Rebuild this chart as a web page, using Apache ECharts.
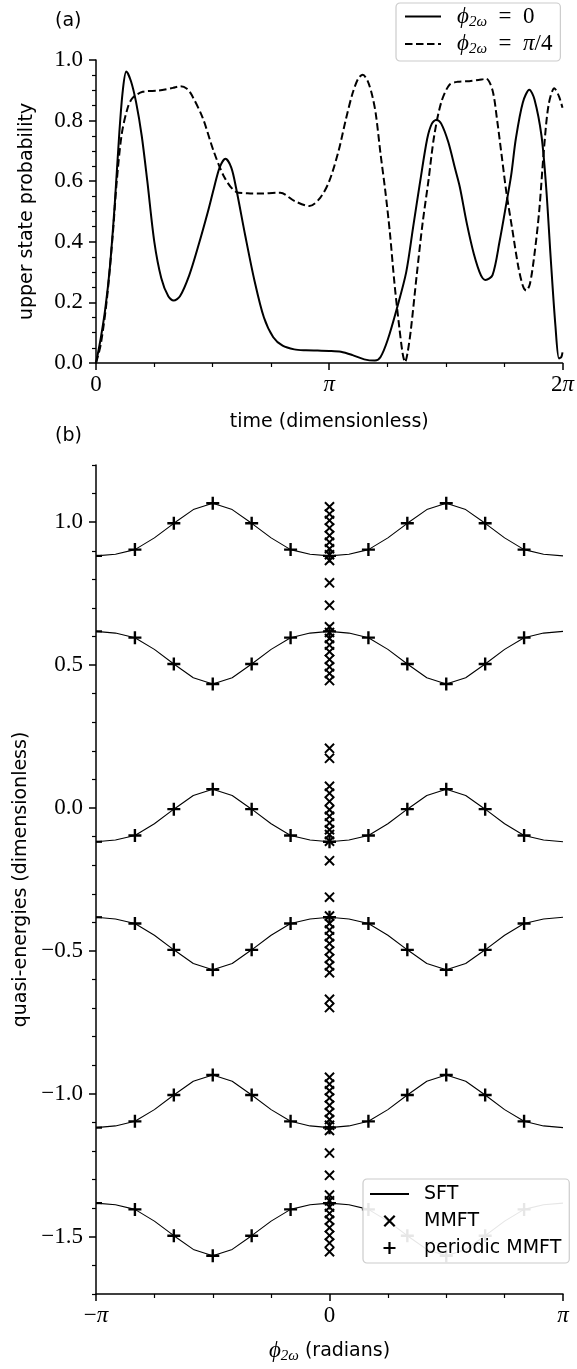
<!DOCTYPE html>
<html>
<head>
<meta charset="utf-8">
<script src="https://cdn.jsdelivr.net/npm/echarts@6/dist/echarts.min.js"></script>
<style>
  html, body { margin: 0; background: #fff; }
  #chart { width: 577px; height: 1369px; }
</style>
</head>
<body>
<div id="chart"></div>
<script type="text/javascript">
// ---- panel (a): upper state probability, time in units of pi ----
const tSolid = [0,0.02,0.04,0.06,0.08,0.10,0.115,0.13,0.15,0.172,0.196,0.22,0.25,0.28,0.31,0.333,0.36,0.40,0.44,0.48,0.505,0.53,0.555,0.58,0.60,0.64,0.68,0.72,0.76,0.80,0.85,0.90,0.95,1.0,1.05,1.10,1.15,1.196,1.22,1.25,1.29,1.33,1.36,1.39,1.42,1.44,1.46,1.48,1.51,1.54,1.56,1.59,1.62,1.65,1.67,1.70,1.73,1.76,1.78,1.80,1.83,1.858,1.88,1.91,1.93,1.95,1.97,1.985,1.995,2.0];
const pSolid = [0,0.08,0.18,0.32,0.52,0.76,0.9,0.962,0.93,0.86,0.75,0.6,0.4,0.28,0.22,0.206,0.22,0.29,0.39,0.5,0.575,0.645,0.674,0.645,0.58,0.42,0.27,0.15,0.085,0.057,0.045,0.042,0.041,0.04,0.037,0.026,0.012,0.008,0.02,0.075,0.18,0.3,0.45,0.6,0.74,0.79,0.803,0.79,0.73,0.64,0.58,0.46,0.36,0.29,0.274,0.29,0.4,0.53,0.62,0.74,0.86,0.902,0.87,0.75,0.58,0.34,0.12,0.015,0.02,0.035];
const tDashed = [0,0.02,0.046,0.072,0.089,0.11,0.135,0.157,0.2,0.27,0.33,0.362,0.39,0.41,0.457,0.504,0.551,0.6,0.65,0.7,0.79,0.85,0.915,0.962,1.0,1.04,1.07,1.1,1.125,1.144,1.165,1.185,1.2,1.22,1.24,1.26,1.28,1.3,1.315,1.325,1.335,1.35,1.375,1.4,1.425,1.45,1.48,1.515,1.55,1.6,1.64,1.673,1.7,1.72,1.74,1.76,1.785,1.81,1.83,1.844,1.86,1.88,1.9,1.92,1.94,1.965,1.985,2.0];
const pDashed = [0,0.06,0.206,0.425,0.6,0.754,0.84,0.875,0.895,0.899,0.908,0.913,0.905,0.885,0.81,0.7,0.612,0.565,0.56,0.559,0.562,0.535,0.518,0.546,0.6,0.7,0.8,0.89,0.94,0.951,0.93,0.88,0.82,0.69,0.57,0.43,0.26,0.12,0.03,0.003,0.03,0.11,0.29,0.46,0.6,0.75,0.86,0.918,0.928,0.93,0.934,0.938,0.9,0.8,0.68,0.56,0.44,0.32,0.255,0.239,0.26,0.36,0.5,0.7,0.85,0.907,0.88,0.842];

// ---- panel (b): quasi-energies vs phase, phase in units of pi ----
const phiLine = [-1,-11/12,-10/12,-9/12,-8/12,-7/12,-6/12,-5/12,-4/12,-3/12,-2/12,-1/12,0,1/12,2/12,3/12,4/12,5/12,6/12,7/12,8/12,9/12,10/12,11/12,1];
const sft1 = [0.882,0.888,0.904,0.945,0.996,1.044,1.066,1.044,0.996,0.945,0.904,0.888,0.882,0.888,0.904,0.945,0.996,1.044,1.066,1.044,0.996,0.945,0.904,0.888,0.882];
const sft2 = [0.618,0.612,0.596,0.555,0.504,0.456,0.434,0.456,0.504,0.555,0.596,0.612,0.618,0.612,0.596,0.555,0.504,0.456,0.434,0.456,0.504,0.555,0.596,0.612,0.618];
const sft3 = [-0.118,-0.112,-0.096,-0.055,-0.004,0.044,0.066,0.044,-0.004,-0.055,-0.096,-0.112,-0.118,-0.112,-0.096,-0.055,-0.004,0.044,0.066,0.044,-0.004,-0.055,-0.096,-0.112,-0.118];
const sft4 = [-0.382,-0.388,-0.404,-0.445,-0.496,-0.544,-0.566,-0.544,-0.496,-0.445,-0.404,-0.388,-0.382,-0.388,-0.404,-0.445,-0.496,-0.544,-0.566,-0.544,-0.496,-0.445,-0.404,-0.388,-0.382];
const sft5 = [-1.118,-1.112,-1.096,-1.055,-1.004,-0.956,-0.934,-0.956,-1.004,-1.055,-1.096,-1.112,-1.118,-1.112,-1.096,-1.055,-1.004,-0.956,-0.934,-0.956,-1.004,-1.055,-1.096,-1.112,-1.118];
const sft6 = [-1.382,-1.388,-1.404,-1.445,-1.496,-1.544,-1.566,-1.544,-1.496,-1.445,-1.404,-1.388,-1.382,-1.388,-1.404,-1.445,-1.496,-1.544,-1.566,-1.544,-1.496,-1.445,-1.404,-1.388,-1.382];

const phiPeriodic = [-1,-5/6,-4/6,-3/6,-2/6,-1/6,0,1/6,2/6,3/6,4/6,5/6];
const per1 = [0.882,0.904,0.996,1.066,0.996,0.904,0.882,0.904,0.996,1.066,0.996,0.904];
const per2 = [0.618,0.596,0.504,0.434,0.504,0.596,0.618,0.596,0.504,0.434,0.504,0.596];
const per3 = [-0.118,-0.096,-0.004,0.066,-0.004,-0.096,-0.118,-0.096,-0.004,0.066,-0.004,-0.096];
const per4 = [-0.382,-0.404,-0.496,-0.566,-0.496,-0.404,-0.382,-0.404,-0.496,-0.566,-0.496,-0.404];
const per5 = [-1.118,-1.096,-1.004,-0.934,-1.004,-1.096,-1.118,-1.096,-1.004,-0.934,-1.004,-1.096];
const per6 = [-1.382,-1.404,-1.496,-1.566,-1.496,-1.404,-1.382,-1.404,-1.496,-1.566,-1.496,-1.404];

// MMFT energies, all at phase 0
const mmftEnergies = [1.054,1.029,1.006,0.980,0.953,0.930,0.907,0.886,0.866,0.788,0.709,0.634,0.614,0.593,0.570,0.547,0.520,0.494,0.471,0.446,
  0.209,0.174,0.076,0.052,0.023,-0.006,-0.029,-0.052,-0.076,-0.093,-0.116,-0.184,-0.312,-0.378,-0.404,-0.427,-0.450,-0.474,-0.500,-0.526,-0.552,-0.576,-0.669,-0.698,
  -0.942,-0.966,-0.989,-1.014,-1.040,-1.065,-1.090,-1.110,-1.128,-1.207,-1.285,-1.354,-1.374,-1.396,-1.418,-1.442,-1.468,-1.495,-1.522,-1.552];

// tick values for panel (b) y axis
const energyMajorTicks = [-1.5,-1.0,-0.5,0.0,0.5,1.0];
const energyMinorTicks = [-1.7,-1.6,-1.4,-1.3,-1.2,-1.1,-0.9,-0.8,-0.7,-0.6,-0.4,-0.3,-0.2,-0.1,0.1,0.2,0.3,0.4,0.6,0.7,0.8,0.9,1.1,1.2];

const SANS = "DejaVu Sans";
const SERIF = "Liberation Serif";
const PLUS = "path://M4.9,0H7.1V12H4.9ZM0,4.9H12V7.1H0Z";
const CROSS = "path://M0,1.2L1.2,0L9,7.8L7.8,9ZM7.8,0L9,1.2L1.2,9L0,7.8Z";

function zip(xs, ys) {
  return xs.map((x, i) => [x, ys[i]]);
}

const mathRich = {
  i: { fontFamily: SERIF, fontStyle: "italic", fontSize: 23, lineHeight: 26, color: "#000" },
  s: { fontFamily: SERIF, fontStyle: "italic", fontSize: 15, lineHeight: 15, verticalAlign: "bottom", color: "#000" },
  t: { fontFamily: SERIF, fontSize: 23, lineHeight: 26, color: "#000" },
  w: { fontFamily: SANS, fontSize: 19, lineHeight: 26, color: "#000" }
};

function axisCommon(extra) {
  return Object.assign({
    type: "value",
    axisLine: { onZero: false, lineStyle: { color: "#000", width: 1.5 } },
    axisTick: { length: 7, lineStyle: { color: "#000", width: 1.5 } },
    splitLine: { show: false },
    axisLabel: { color: "#000", fontFamily: SERIF, fontSize: 23, margin: 10 },
    nameLocation: "middle",
    nameTextStyle: { color: "#000", fontFamily: SANS, fontSize: 19 }
  }, extra);
}

const minor = { show: true, splitNumber: 4, length: 4, lineStyle: { color: "#000", width: 1.2 } };

const chart = echarts.init(document.getElementById("chart"), null, { renderer: "canvas" });

const sftSeries = [sft1, sft2, sft3, sft4, sft5, sft6].map(vals => ({
  name: "SFT",
  type: "line",
  xAxisIndex: 1,
  yAxisIndex: 1,
  data: zip(phiLine, vals),
  symbol: "none",
  lineStyle: { color: "#000", width: 1.1 },
  z: 2
}));

let periodicData = [];
[per1, per2, per3, per4, per5, per6].forEach(vals => {
  periodicData = periodicData.concat(zip(phiPeriodic, vals));
});
// markers sitting on the -pi spine are half hidden, as in the original
const periodicInside = periodicData.filter(p => p[0] > -1);
const periodicEdge = periodicData.filter(p => p[0] === -1);

chart.setOption({
  animation: false,
  backgroundColor: "#fff",
  title: [
    { text: "(a)", left: 50, top: 7, textStyle: { fontFamily: SANS, fontSize: 19, fontWeight: "normal", color: "#000" } },
    { text: "(b)", left: 50, top: 422, textStyle: { fontFamily: SANS, fontSize: 19, fontWeight: "normal", color: "#000" } }
  ],
  grid: [
    { left: 96, top: 60, width: 467, height: 303 },
    { left: 96, top: 465, width: 467, height: 831 }
  ],
  xAxis: [
    axisCommon({
      gridIndex: 0, min: 0, max: 2, interval: 1, minorTick: minor,
      axisLabel: {
        margin: 9, rich: mathRich,
        formatter: v => (v === 0 ? "{t|0}" : v === 1 ? "{i|π}" : "{t|2}{i|π}")
      },
      name: "time (dimensionless)", nameGap: 50
    }),
    axisCommon({
      gridIndex: 1, min: -1, max: 1, interval: 1, minorTick: minor,
      axisLabel: {
        margin: 9, rich: mathRich,
        formatter: v => (v === 0 ? "{t|0}" : v < 0 ? "{t|−}{i|π}" : "{i|π}")
      },
      name: "{i|ϕ}{s|2ω}{w| (radians)}", nameGap: 44,
      nameTextStyle: { rich: mathRich }
    })
  ],
  yAxis: [
    axisCommon({
      gridIndex: 0, min: 0, max: 1, interval: 0.2, minorTick: minor,
      axisLabel: { color: "#000", fontFamily: SERIF, fontSize: 23, margin: 13, formatter: v => v.toFixed(1) },
      name: "upper state probability", nameGap: 59
    }),
    axisCommon({
      gridIndex: 1, min: -1.7, max: 1.2,
      axisTick: { length: 7, customValues: energyMajorTicks, lineStyle: { color: "#000", width: 1.5 } },
      axisLabel: {
        color: "#000", fontFamily: SERIF, fontSize: 23, margin: 13,
        customValues: energyMajorTicks,
        formatter: v => v.toFixed(1).replace("-", "−")
      },
      name: "quasi-energies (dimensionless)", nameGap: 59
    }),
    axisCommon({
      gridIndex: 1, min: -1.7, max: 1.2, position: "left",
      axisLine: { show: false, onZero: false },
      axisTick: { length: 4, customValues: energyMinorTicks, lineStyle: { color: "#000", width: 1.2 } },
      axisLabel: { show: false }
    })
  ],
  legend: [
    {
      data: [
        { name: "phi0", itemStyle: { opacity: 0 } },
        { name: "phi4", itemStyle: { opacity: 0 } }
      ],
      orient: "vertical",
      left: 396, top: 3, z: 10,
      itemWidth: 36, itemHeight: 14, itemGap: 3,
      padding: [2, 8, 4, 8],
      borderColor: "#cccccc", borderWidth: 1.2, borderRadius: 4,
      backgroundColor: "rgba(255,255,255,0.9)",
      textStyle: { rich: mathRich, padding: [0, 0, 0, 11] },
      formatter: name => (name === "phi0"
        ? "{i|ϕ}{s|2ω}{t|  =  0}"
        : "{i|ϕ}{s|2ω}{t|  =  }{i|π}{t|/4}")
    },
    {
      data: [{ name: "SFT", itemStyle: { opacity: 0 } }, "MMFT", "periodic MMFT"],
      orient: "vertical",
      left: 363, top: 1179, z: 10,
      itemWidth: 39, itemHeight: 12, itemGap: 5,
      padding: [4, 8, 4, 6],
      borderColor: "#cccccc", borderWidth: 1.2, borderRadius: 4,
      backgroundColor: "rgba(255,255,255,0.9)",
      textStyle: { color: "#000", fontFamily: SANS, fontSize: 19, lineHeight: 22, padding: [0, 0, 0, 10] }
    }
  ],
  series: [
    {
      name: "phi0",
      type: "line",
      xAxisIndex: 0, yAxisIndex: 0,
      data: zip(tSolid, pSolid),
      symbol: "none", smooth: 0.3,
      lineStyle: { color: "#000", width: 2 }
    },
    {
      name: "phi4",
      type: "line",
      xAxisIndex: 0, yAxisIndex: 0,
      data: zip(tDashed, pDashed),
      symbol: "none", smooth: 0.3,
      lineStyle: { color: "#000", width: 2, type: [7.5, 3.5] }
    }
  ].concat(sftSeries, [
    {
      name: "MMFT",
      type: "scatter",
      xAxisIndex: 1, yAxisIndex: 1,
      data: mmftEnergies.map(v => [0, v]),
      symbol: CROSS, symbolSize: 10.5,
      itemStyle: { color: "#000", opacity: 1 },
      z: 3
    },
    {
      name: "periodic MMFT",
      type: "scatter",
      xAxisIndex: 1, yAxisIndex: 1,
      data: periodicInside,
      symbol: PLUS, symbolSize: 13,
      itemStyle: { color: "#000", opacity: 1 },
      z: 4
    },
    {
      name: "periodic MMFT",
      type: "scatter",
      xAxisIndex: 1, yAxisIndex: 1,
      data: periodicEdge,
      symbol: "rect", symbolSize: [6, 2.2], symbolOffset: [3, 0],
      itemStyle: { color: "#000", opacity: 1 },
      z: 4
    }
  ])
});
</script>
</body>
</html>
